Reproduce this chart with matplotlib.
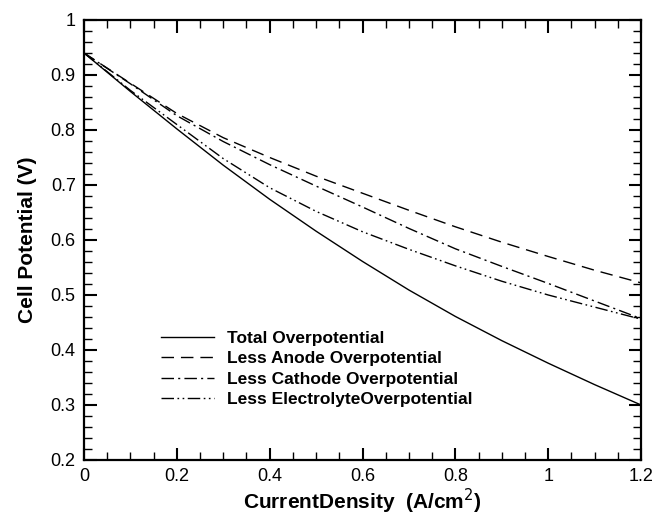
import numpy as np
import matplotlib
matplotlib.use("Agg")
import matplotlib.pyplot as plt
from matplotlib.ticker import MultipleLocator

plt.rcParams["font.family"] = ["Liberation Sans", "DejaVu Sans"]

# current density (A/cm^2)
current = [0.0, 0.1, 0.2, 0.3, 0.4, 0.5, 0.6, 0.7, 0.8, 0.9, 1.0, 1.1, 1.2]

# cell potential (V)
total = [0.94, 0.870, 0.802, 0.736, 0.674, 0.616, 0.561, 0.509, 0.461, 0.417, 0.376, 0.337, 0.300]
less_anode = [0.94, 0.885, 0.830, 0.786, 0.750, 0.716, 0.685, 0.654, 0.624, 0.596, 0.570, 0.545, 0.522]
less_cathode = [0.94, 0.884, 0.826, 0.779, 0.737, 0.698, 0.660, 0.621, 0.584, 0.552, 0.521, 0.489, 0.457]
less_electrolyte = [0.94, 0.872, 0.810, 0.748, 0.695, 0.652, 0.615, 0.583, 0.553, 0.525, 0.500, 0.478, 0.456]

labels = ["Total Overpotential", "Less Anode Overpotential",
          "Less Cathode Overpotential", "Less ElectrolyteOverpotential"]

fig = plt.figure(figsize=(6.65, 5.18), dpi=100)
ax = fig.add_axes([0.1263, 0.112, 0.8377, 0.8494])

lw = 1.0
ax.plot(current, total, color="black", lw=lw, label=labels[0])
ax.plot(current, less_anode, color="black", lw=lw, dashes=(9, 5), label=labels[1])
ax.plot(current, less_cathode, color="black", lw=lw, dashes=(9, 3, 1.5, 3), label=labels[2])
ax.plot(current, less_electrolyte, color="black", lw=lw,
        dashes=(9, 2.5, 1.2, 2.5, 1.2, 2.5), label=labels[3])

ax.set_xlim(0, 1.2)
ax.set_ylim(0.2, 1.0)
ax.xaxis.set_major_locator(MultipleLocator(0.2))
ax.xaxis.set_minor_locator(MultipleLocator(0.05))
ax.yaxis.set_major_locator(MultipleLocator(0.1))
ax.yaxis.set_minor_locator(MultipleLocator(0.02))
ax.xaxis.set_major_formatter(lambda v, p: f"{v:g}")
ax.yaxis.set_major_formatter(lambda v, p: f"{v:g}")

ax.tick_params(which="both", direction="in", top=True, right=True,
               labelsize=13, colors="black")
ax.tick_params(which="major", length=9, width=1.5, pad=6)
ax.tick_params(which="minor", length=5.5, width=1.0)
for s in ax.spines.values():
    s.set_linewidth(1.6)

ax.set_xlabel("CurrentDensity  (A/cm$^2$)", fontsize=15, fontweight="bold", labelpad=1)
ax.set_ylabel("Cell Potential (V)", fontsize=15, fontweight="bold", labelpad=10)

leg = ax.legend(loc="lower left", bbox_to_anchor=(0.111, 0.085), frameon=False,
                prop={"size": 12.5, "weight": "bold"}, handlelength=3.0,
                handletextpad=0.8, labelspacing=0.3)

fig.savefig("out.png", dpi=100)
